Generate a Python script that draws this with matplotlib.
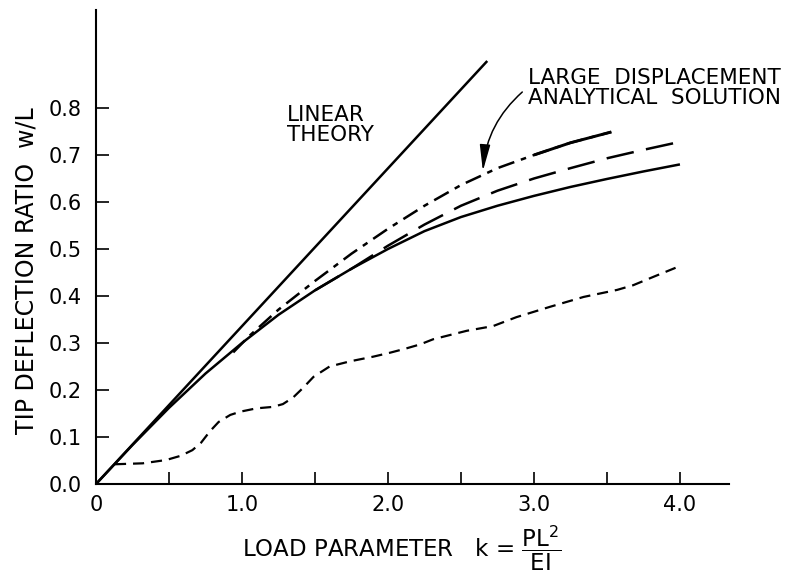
import matplotlib
matplotlib.use("Agg")
import matplotlib.pyplot as plt

plt.rcParams['font.family'] = ['DejaVu Sans']
plt.rcParams['lines.scale_dashes'] = False
plt.rcParams['mathtext.fontset'] = 'dejavusans'

# ---- data ----
k_linear = [0.0, 2.68]
w_linear = [0.0, 0.90]

k_solid = [0.0, 0.25, 0.5, 0.75, 1.0, 1.25, 1.5, 1.75, 2.0, 2.25, 2.5, 2.75, 3.0, 3.25, 3.5, 3.75, 4.0]
w_solid = [0.0, 0.083, 0.162, 0.235, 0.300, 0.360, 0.412, 0.458, 0.500, 0.538, 0.568, 0.592, 0.613, 0.632, 0.649, 0.665, 0.680]

k_longdash = [1.5, 1.75, 2.0, 2.25, 2.5, 2.75, 3.0, 3.25, 3.5, 3.75, 4.0]
w_longdash = [0.412, 0.458, 0.507, 0.552, 0.592, 0.624, 0.650, 0.672, 0.693, 0.711, 0.728]

k_analytic = [0.94, 1.05, 1.25, 1.5, 1.75, 2.0, 2.25, 2.5, 2.75, 3.0, 3.25, 3.53]
w_analytic = [0.280, 0.315, 0.371, 0.432, 0.490, 0.543, 0.592, 0.636, 0.672, 0.700, 0.726, 0.749]

k_short = [0.13, 0.32, 0.48, 0.58, 0.66, 0.72, 0.78, 0.84, 0.92, 0.99, 1.10, 1.21, 1.28, 1.35, 1.42, 1.49,
           1.60, 1.74, 1.90, 2.01, 2.12, 2.22, 2.31, 2.54, 2.72, 2.88, 3.11, 3.34, 3.57, 3.68, 3.82, 3.97]
w_short = [0.042, 0.044, 0.051, 0.060, 0.072, 0.088, 0.112, 0.132, 0.147, 0.154, 0.161, 0.164, 0.170, 0.184, 0.205, 0.228,
           0.250, 0.261, 0.271, 0.279, 0.288, 0.297, 0.308, 0.326, 0.336, 0.355, 0.377, 0.398, 0.413, 0.423, 0.441, 0.460]

x_tick_values = [0.0, 0.5, 1.0, 1.5, 2.0, 2.5, 3.0, 3.5, 4.0]
x_tick_labels = ['0', '', '1.0', '', '2.0', '', '3.0', '', '4.0']
y_tick_values = [0.0, 0.1, 0.2, 0.3, 0.4, 0.5, 0.6, 0.7, 0.8]
y_tick_labels = ['0.0', '0.1', '0.2', '0.3', '0.4', '0.5', '0.6', '0.7', '0.8']

# ---- figure ----
W, H = 793, 574
fig = plt.figure(figsize=(W / 100, H / 100), dpi=100)
ax = fig.add_axes([96 / W, 90 / H, 633 / W, 474 / H])
ax.set_xlim(0, 4.336)
ax.set_ylim(0, 1.0085)

lw = 1.8
ax.plot(k_linear, w_linear, color='k', lw=lw, solid_capstyle='butt')
ax.plot(k_solid, w_solid, color='k', lw=lw, solid_capstyle='butt')
ax.plot(k_longdash, w_longdash, color='k', lw=lw, ls=(0, (20, 9)), dash_capstyle='butt')
ax.plot(k_analytic, w_analytic, color='k', lw=lw, ls=(0, (12, 5, 4, 5)), dash_capstyle='butt')
# final part of the analytical curve is drawn continuous
tail_k = [k for k in k_analytic if k >= 3.0]
tail_w = [w for k, w in zip(k_analytic, w_analytic) if k >= 3.0]
ax.plot(tail_k, tail_w, color='k', lw=lw + 0.3, solid_capstyle='butt')
ax.plot(k_short, w_short, color='k', lw=1.6, ls=(0, (8, 5)), dash_capstyle='butt')

# axes styling
for s in ['top', 'right']:
    ax.spines[s].set_visible(False)
for s in ['left', 'bottom']:
    ax.spines[s].set_linewidth(1.5)
ax.set_xticks(x_tick_values)
ax.set_xticklabels(x_tick_labels)
ax.set_yticks(y_tick_values)
ax.set_yticklabels(y_tick_labels)
ax.tick_params(direction='in', length=9, width=1.2, labelsize=15)
ax.tick_params(axis='y', pad=10)
ax.tick_params(axis='x', pad=8)

# annotations
ax.text(1.308, 0.764, 'LINEAR\nTHEORY', fontsize=15.5, ha='left', va='center', linespacing=1.0)
ax.text(2.959, 0.8415, 'LARGE  DISPLACEMENT\nANALYTICAL  SOLUTION', fontsize=15.5,
        ha='left', va='center', linespacing=1.0)
ax.annotate('', xy=(2.65, 0.666), xytext=(2.92, 0.834),
            arrowprops=dict(arrowstyle='-|>,head_length=1.0,head_width=0.2',
                            connectionstyle='arc3,rad=0.2', color='k', lw=1.1,
                            shrinkA=0, shrinkB=0, mutation_scale=16))

fig.text(27 / W, 1 - 271 / H, 'TIP DEFLECTION RATIO  w/L', rotation=90,
         ha='center', va='center', fontsize=17)
fig.text(402 / W, 1 - 548 / H,
         r'LOAD PARAMETER   k = $\dfrac{\mathrm{PL}^{2}}{\mathrm{EI}}$',
         ha='center', va='center', fontsize=16.5)

fig.savefig('out.png', dpi=100)
